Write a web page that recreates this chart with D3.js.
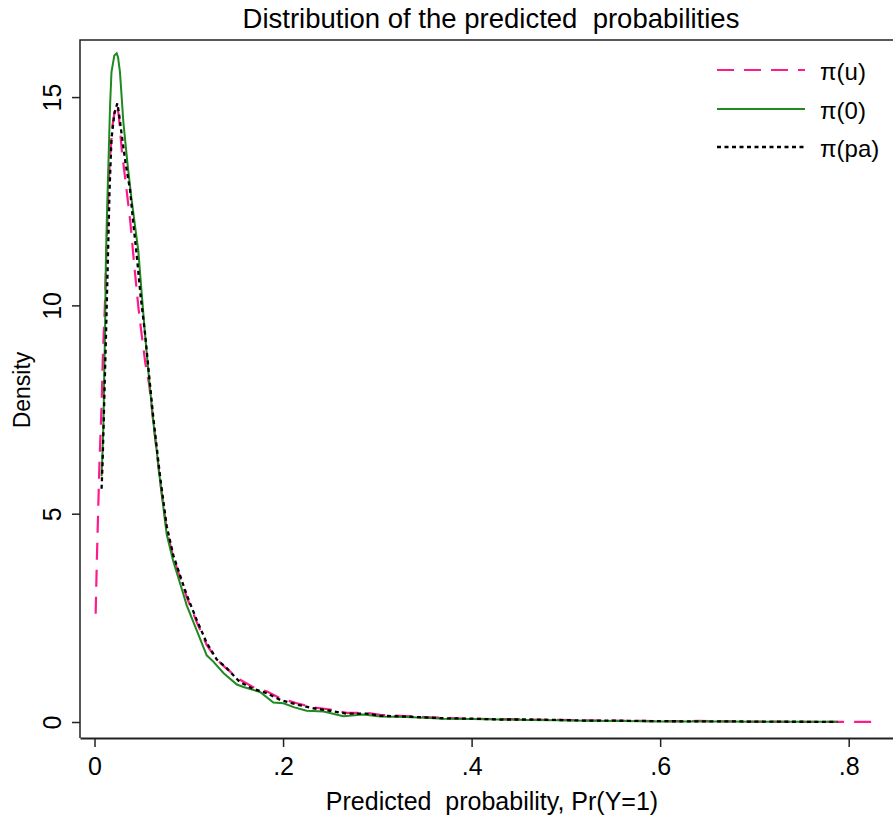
<!DOCTYPE html>
<html>
<head>
<meta charset="utf-8">
<script src="https://cdn.jsdelivr.net/npm/d3@7"></script>
<style>
  body { margin: 0; background: #fff; }
  text { font-family: "Liberation Sans", Arial, sans-serif; fill: #000; white-space: pre; }
</style>
</head>
<body>
<svg width="893" height="821"></svg>
<script>
// density estimates: [probability, density]
const piU = [[0.0012,2.6],[0.0025,3.9],[0.0038,5.0],[0.0052,6.2],[0.0075,7.6],[0.009,8.9],[0.011,10.0],[0.0125,11.2],[0.014,12.3],[0.016,13.4],[0.019,14.3],[0.022,14.75],[0.0242,14.8],[0.026,14.5],[0.029,13.7],[0.034,12.77],[0.038,12.0],[0.042,11.0],[0.0465,9.96],[0.05,9.3],[0.054,8.6],[0.058,8.1],[0.0624,7.2],[0.066,6.5],[0.0695,5.8],[0.0766,4.6],[0.0836,3.95],[0.0925,3.35],[0.0978,3.0],[0.1084,2.4],[0.119,1.85],[0.1297,1.5],[0.14,1.28],[0.154,1.02],[0.168,0.84],[0.183,0.73],[0.197,0.57],[0.2145,0.45],[0.232,0.35],[0.25,0.3],[0.2676,0.22],[0.289,0.22],[0.303,0.17],[0.33,0.14],[0.35,0.12],[0.37,0.1],[0.4,0.08],[0.43,0.07],[0.46,0.06],[0.49,0.05],[0.52,0.04],[0.56,0.03],[0.6,0.02],[0.64,0.025],[0.67,0.015],[0.7,0.01],[0.74,0.006],[0.78,0.004],[0.834,0.002]];

const pi0 = [[0.0075,5.9],[0.0085,6.5],[0.0095,7.2],[0.0105,8.6],[0.0112,9.4],[0.012,11.0],[0.013,12.0],[0.014,12.8],[0.0155,14.0],[0.0165,14.8],[0.018,15.6],[0.021,16.0],[0.0235,16.05],[0.025,15.95],[0.027,15.6],[0.0306,14.4],[0.035,13.4],[0.039,12.6],[0.043,11.9],[0.0465,11.3],[0.05,10.3],[0.0536,9.3],[0.058,8.2],[0.0624,7.2],[0.066,6.5],[0.0695,5.8],[0.0766,4.5],[0.0836,3.85],[0.0925,3.2],[0.0978,2.8],[0.1084,2.2],[0.119,1.6],[0.126,1.45],[0.137,1.17],[0.151,0.9],[0.158,0.84],[0.1756,0.72],[0.1897,0.47],[0.2004,0.45],[0.212,0.35],[0.225,0.27],[0.243,0.25],[0.264,0.14],[0.285,0.18],[0.303,0.13],[0.33,0.12],[0.35,0.1],[0.37,0.08],[0.4,0.07],[0.43,0.06],[0.46,0.05],[0.49,0.04],[0.52,0.03],[0.56,0.025],[0.6,0.015],[0.64,0.01],[0.67,0.015],[0.7,0.008],[0.74,0.005],[0.788,0.004]];

const piPa = [[0.0075,5.6],[0.0085,6.2],[0.0095,7.0],[0.011,8.3],[0.0122,9.3],[0.0135,10.5],[0.0147,11.6],[0.016,12.8],[0.018,14.0],[0.021,14.6],[0.0242,14.85],[0.026,14.6],[0.0288,14.1],[0.033,13.4],[0.0377,12.77],[0.041,12.0],[0.0448,11.2],[0.049,10.2],[0.0536,9.33],[0.058,8.3],[0.0624,7.3],[0.066,6.6],[0.0695,5.9],[0.0766,4.7],[0.0836,4.0],[0.0925,3.4],[0.0978,3.05],[0.1084,2.45],[0.119,1.9],[0.1297,1.5],[0.14,1.3],[0.154,0.96],[0.168,0.8],[0.183,0.69],[0.197,0.53],[0.2145,0.42],[0.232,0.33],[0.25,0.27],[0.2676,0.2],[0.289,0.2],[0.303,0.15],[0.33,0.13],[0.35,0.11],[0.37,0.09],[0.4,0.08],[0.43,0.06],[0.46,0.06],[0.49,0.05],[0.52,0.035],[0.56,0.03],[0.6,0.02],[0.64,0.015],[0.67,0.015],[0.7,0.01],[0.74,0.006],[0.788,0.004]];

const seriesNames = ["\u03c0(u)", "\u03c0(0)", "\u03c0(pa)"];
const xTicks = [0, 0.2, 0.4, 0.6, 0.8];
const yTicks = [0, 5, 10, 15];

const svg = d3.select("svg");
const plotLeft = 80, plotRight = 893, plotTop = 40, plotBottom = 738;

const x = d3.scaleLinear().domain([-0.0154, 0.847]).range([plotLeft, plotRight]);
const y = d3.scaleLinear().domain([-0.384, 16.37]).range([plotBottom, plotTop]);

// title
svg.append("text")
  .attr("x", 491)
  .attr("y", 28)
  .attr("text-anchor", "middle")
  .style("font-size", "27.5px")
  .text("Distribution of the predicted  probabilities");

// plot region frame (left + top)
svg.append("path")
  .attr("d", `M${plotLeft},${plotBottom}V${plotTop}H${plotRight}`)
  .attr("fill", "none")
  .attr("stroke", "#222")
  .attr("stroke-width", 1.5);

// x axis
const xAxis = svg.append("g")
  .attr("transform", `translate(0,${plotBottom})`)
  .call(d3.axisBottom(x).tickValues(xTicks).tickSize(9).tickSizeOuter(0)
    .tickFormat(d => d === 0 ? "0" : d3.format(".1f")(d).replace(/^0/, "")));
xAxis.select(".domain").attr("stroke", "#222").attr("stroke-width", 2);
xAxis.selectAll(".tick line").attr("stroke", "#222").attr("stroke-width", 1.5);
xAxis.selectAll("text").attr("y", 19).style("font-size", "25px").style("font-family", "Liberation Sans, Arial, sans-serif");

// y axis
const yAxis = svg.append("g")
  .attr("transform", `translate(${plotLeft},0)`)
  .call(d3.axisLeft(y).tickValues(yTicks).tickSize(8).tickSizeOuter(0));
yAxis.select(".domain").remove();
yAxis.selectAll(".tick line").attr("stroke", "#222").attr("stroke-width", 1.5);
yAxis.selectAll("text")
  .attr("transform", "rotate(-90)")
  .attr("x", 0)
  .attr("y", -19)
  .attr("dy", 0)
  .style("text-anchor", "middle")
  .style("font-size", "25px")
  .style("font-family", "Liberation Sans, Arial, sans-serif");

// axis titles
svg.append("text")
  .attr("transform", "translate(30,390) rotate(-90)")
  .attr("text-anchor", "middle")
  .style("font-size", "23px")
  .text("Density");

svg.append("text")
  .attr("x", 492)
  .attr("y", 810)
  .attr("text-anchor", "middle")
  .style("font-size", "25px")
  .text("Predicted  probability, Pr(Y=1)");

// curves
const line = d3.line().x(d => x(d[0])).y(d => y(d[1]));
const styles = [
  { data: piU, color: "#ff1a8c", dash: "17,10", width: 2.2 },
  { data: pi0, color: "#1f8a1f", dash: null, width: 2 },
  { data: piPa, color: "#000", dash: "4,3.5", width: 2.3 }
];

svg.selectAll(".curve")
  .data(styles)
  .enter().append("path")
  .attr("class", "curve")
  .attr("d", d => line(d.data))
  .attr("fill", "none")
  .attr("stroke", d => d.color)
  .attr("stroke-width", d => d.width)
  .attr("stroke-dasharray", d => d.dash);

// legend
const legendY = [70, 109, 147];
const legend = svg.append("g");
styles.forEach((s, i) => {
  legend.append("line")
    .attr("x1", 717).attr("x2", 805)
    .attr("y1", legendY[i]).attr("y2", legendY[i])
    .attr("stroke", s.color)
    .attr("stroke-width", s.width)
    .attr("stroke-dasharray", s.dash);
  legend.append("text")
    .attr("x", 820)
    .attr("y", legendY[i] + 2)
    .attr("dy", "0.35em")
    .style("font-size", "24px")
    .text(seriesNames[i]);
});
</script>
</body>
</html>
